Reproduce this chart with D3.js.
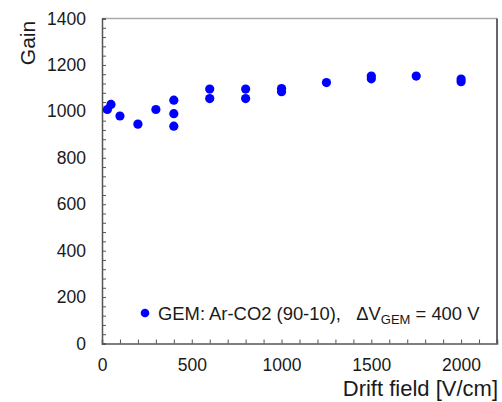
<!DOCTYPE html>
<html><head><meta charset="utf-8">
<script src="https://cdn.jsdelivr.net/npm/d3@7"></script>
<style>body{margin:0;background:#fff}svg{display:block}text{font-family:"Liberation Sans",Arial,sans-serif;fill:#1a1a1a}</style>
</head><body>
<script>
const driftField = [30, 50, 100, 200, 300, 400, 400, 400, 600, 600, 800, 800, 1000, 1000, 1250, 1500, 1500, 1750, 2000, 2000];
const gain       = [1008, 1030, 980, 945, 1008, 1048, 990, 936, 1096, 1055, 1096, 1055, 1098, 1085, 1124, 1152, 1140, 1152, 1139, 1128];
const xTickLabels = [0, 500, 1000, 1500, 2000];
const yTickLabels = [0, 200, 400, 600, 800, 1000, 1200, 1400];
const xLabel = "Drift field [V/cm]";
const yLabel = "Gain";

const W = 502, H = 402;
const m = {l: 102, r: 5, t: 18.5, b: 58.5};
const svg = d3.select("body").append("svg").attr("width", W).attr("height", H);
const x = d3.scaleLinear().domain([0, 2200]).range([m.l, W - m.r]);
const y = d3.scaleLinear().domain([0, 1400]).range([H - m.b, m.t]);

// frame top/right
svg.append("line").attr("x1", x(0)).attr("x2", x(2200)).attr("y1", y(1400)).attr("y2", y(1400)).attr("stroke", "#aaa").attr("stroke-width", 1.5);
svg.append("line").attr("x1", x(2200)).attr("x2", x(2200)).attr("y1", y(1400)).attr("y2", y(0)).attr("stroke", "#333").attr("stroke-width", 1.5);

// minor ticks
const xa = svg.append("g").attr("transform", `translate(0,${y(0)})`)
  .call(d3.axisBottom(x).tickValues(d3.range(0, 2201, 100)).tickSize(-4).tickFormat(""));
const ya = svg.append("g").attr("transform", `translate(${x(0)},0)`)
  .call(d3.axisLeft(y).tickValues(d3.range(0, 1401, 40)).tickSize(-4).tickFormat(""));
[xa, ya].forEach(g => { g.selectAll("path").attr("stroke", "#555").attr("stroke-width", 1.5); g.selectAll("line").attr("stroke", "#555"); });

// tick labels
const xl = svg.append("g").attr("transform", `translate(0,${y(0)})`)
  .call(d3.axisBottom(x).tickValues(xTickLabels).tickSize(0).tickPadding(15).tickFormat(d3.format("d")));
xl.select(".domain").remove();
xl.selectAll("text").attr("font-size", 17.5).attr("font-family", '"Liberation Sans",Arial,sans-serif').attr("fill", "#1a1a1a");
const yl = svg.append("g").attr("transform", `translate(${x(0)},0)`)
  .call(d3.axisLeft(y).tickValues(yTickLabels).tickSize(0).tickPadding(16).tickFormat(d3.format("d")));
yl.select(".domain").remove();
yl.selectAll("text").attr("font-size", 17.5).attr("font-family", '"Liberation Sans",Arial,sans-serif').attr("fill", "#1a1a1a");

// axis titles
svg.append("text").attr("x", 498).attr("y", 396).attr("text-anchor", "end").attr("font-size", 22).text(xLabel);
svg.append("text").attr("transform", "translate(35,43) rotate(-90)").attr("text-anchor", "middle").attr("font-size", 21).text(yLabel);

// points
svg.append("g").selectAll("circle").data(driftField).join("circle")
  .attr("cx", (d) => x(d)).attr("cy", (d, i) => y(gain[i])).attr("r", 4.6).attr("fill", "#0000ff");

// legend
svg.append("circle").attr("cx", 145).attr("cy", 313).attr("r", 4.3).attr("fill", "#0000ff");
const lt = svg.append("text").attr("x", 158).attr("y", 320).attr("font-size", 18.4).attr("xml:space", "preserve");
lt.append("tspan").text("GEM: Ar-CO2 (90-10),   \u0394V");
lt.append("tspan").attr("font-size", 13).attr("dy", 4).text("GEM");
lt.append("tspan").attr("dy", -4).text(" = 400 V");
</script>
</body></html>
